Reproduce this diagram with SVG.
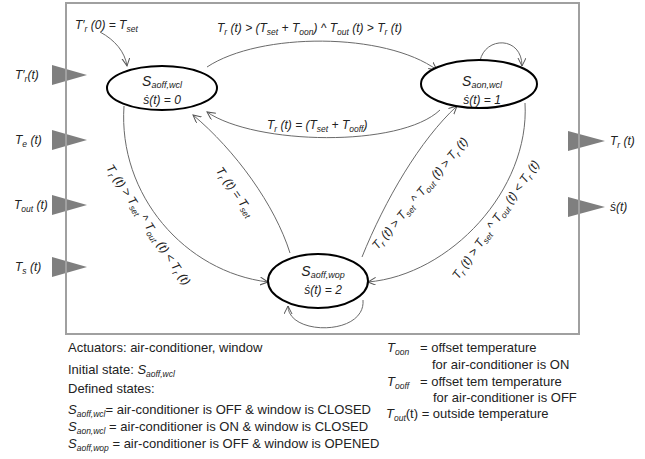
<svg xmlns="http://www.w3.org/2000/svg" width="645" height="459" viewBox="0 0 645 459">
<defs>
<style>
.m{font-family:"Liberation Sans",Arial,sans-serif;font-style:italic;font-size:12px;fill:#222}
.s{font-size:8.5px}
.st{font-family:"Liberation Sans",Arial,sans-serif;font-style:italic;font-size:14px;fill:#222}
.ss{font-size:9px}
.b{font-family:"Liberation Sans",Arial,sans-serif;font-size:13px;fill:#222}
.bs{font-style:italic;font-size:8.5px}
.bi{font-style:italic}
.node{fill:#fff;stroke:#000;stroke-width:2}
.tri{fill:#7f7f7f}
.edge{fill:none;stroke:#6a6a6a;stroke-width:1}
</style>
<marker id="arr" markerWidth="9" markerHeight="9" refX="8" refY="4" orient="auto" markerUnits="userSpaceOnUse">
<path d="M0,0 L8,4 L0,8" fill="none" stroke="#555" stroke-width="1"/>
</marker>
</defs>
<rect width="645" height="459" fill="#fff"/>
<g id="inputs">
<polygon class="tri" points="52,65 87,75 52,85"/>
<polygon class="tri" points="52,130 87,140 52,150"/>
<polygon class="tri" points="52,195 87,205 52,215"/>
<polygon class="tri" points="52,257 87,267 52,277"/>
<text class="m" x="15" y="79">T′<tspan class="s" dy="3">r</tspan><tspan dy="-3">(t)</tspan></text>
<text class="m" x="15" y="144">T<tspan class="s" dy="3">e</tspan><tspan dy="-3"> (t)</tspan></text>
<text class="m" x="14" y="209">T<tspan class="s" dy="3">out</tspan><tspan dy="-3"> (t)</tspan></text>
<text class="m" x="15" y="271">T<tspan class="s" dy="3">s</tspan><tspan dy="-3"> (t)</tspan></text>
</g>
<g id="outputs">
<polygon class="tri" points="568,131 605,141 568,151"/>
<polygon class="tri" points="568,197 605,207 568,217"/>
<text class="m" x="610" y="145">T<tspan class="s" dy="3">r</tspan><tspan dy="-3"> (t)</tspan></text>
<text class="m" x="610" y="211">ṡ(t)</text>
</g>
<rect id="frame" x="66" y="3" width="513" height="331" fill="none" stroke="#a0a0a0" stroke-width="2"/>
<g id="connectors">
<path class="edge" marker-end="url(#arr)" d="M207,67 C260,32 385,32 437,70"/>
<path class="edge" marker-end="url(#arr)" d="M440,110 C400,148 255,145 207,112"/>
<path class="edge" marker-end="url(#arr)" d="M100,32 C115,40 125,52 127,66"/>
<path class="edge" marker-end="url(#arr)" d="M124,106 C118,195 185,272 268,282"/>
<path class="edge" marker-end="url(#arr)" d="M290,253 C275,205 235,150 193,115"/>
<path class="edge" marker-end="url(#arr)" d="M362,257 C385,200 420,140 457,106"/>
<path class="edge" marker-end="url(#arr)" d="M525,103 C530,190 450,275 368,282"/>
<path class="edge" marker-end="url(#arr)" d="M480,61 C485,36 522,36 522,66"/>
<path class="edge" marker-end="url(#arr)" d="M363,300 C366,336 288,336 288,306"/>
<text class="m" x="75" y="29">T′<tspan class="s" dy="3">r</tspan><tspan dy="-3"> (0) = T</tspan><tspan class="s" dy="3">set</tspan></text>
<text class="m" x="217" y="32">T<tspan class="s" dy="3">r</tspan><tspan dy="-3"> (t) &gt; (T</tspan><tspan class="s" dy="3">set</tspan><tspan dy="-3"> + T</tspan><tspan class="s" dy="3">oon</tspan><tspan dy="-3">) ^ T</tspan><tspan class="s" dy="3">out</tspan><tspan dy="-3"> (t) &gt; T</tspan><tspan class="s" dy="3">r</tspan><tspan dy="-3"> (t)</tspan></text>
<text class="m" x="267" y="129">T<tspan class="s" dy="3">r</tspan><tspan dy="-3"> (t) = (T</tspan><tspan class="s" dy="3">set</tspan><tspan dy="-3"> + T</tspan><tspan class="s" dy="3">ooff</tspan><tspan dy="-3">)</tspan></text>
<text class="m" text-anchor="middle" transform="translate(145,227) rotate(56.5)">T<tspan class="s" dy="3">r</tspan><tspan dy="-3"> (t) &gt; T</tspan><tspan class="s" dy="3">set</tspan><tspan dy="-3"> ^ T</tspan><tspan class="s" dy="3">out</tspan><tspan dy="-3"> (t) &lt; T</tspan><tspan class="s" dy="3">r</tspan><tspan dy="-3"> (t)</tspan></text>
<text class="m" text-anchor="middle" transform="translate(232,194) rotate(55)">T<tspan class="s" dy="3">r</tspan><tspan dy="-3"> (t) = T</tspan><tspan class="s" dy="3">set</tspan></text>
<text class="m" text-anchor="middle" transform="translate(423,196) rotate(-50)">T<tspan class="s" dy="3">r</tspan><tspan dy="-3"> (t) &gt; T</tspan><tspan class="s" dy="3">set</tspan><tspan dy="-3"> ^ T</tspan><tspan class="s" dy="3">out</tspan><tspan dy="-3"> (t) &gt; T</tspan><tspan class="s" dy="3">r</tspan><tspan dy="-3"> (t)</tspan></text>
<text class="m" text-anchor="middle" transform="translate(499,222) rotate(-55)">T<tspan class="s" dy="3">r</tspan><tspan dy="-3"> (t) &gt; T</tspan><tspan class="s" dy="3">set</tspan><tspan dy="-3"> ^ T</tspan><tspan class="s" dy="3">out</tspan><tspan dy="-3"> (t) &lt; T</tspan><tspan class="s" dy="3">r</tspan><tspan dy="-3"> (t)</tspan></text>
</g>
<g id="s_aoff_wcl">
<ellipse class="node" cx="162" cy="88" rx="55" ry="22"/>
<text class="st" x="162" y="86" text-anchor="middle">S<tspan class="ss" dy="2">aoff,wcl</tspan></text>
<text class="m" x="162" y="104" text-anchor="middle" font-size="13">ṡ(t) = 0</text>
</g>
<g id="s_aon_wcl">
<ellipse class="node" cx="479" cy="84" rx="58" ry="24"/>
<text class="st" x="482" y="86" text-anchor="middle">S<tspan class="ss" dy="2">aon,wcl</tspan></text>
<text class="m" x="482" y="104" text-anchor="middle" font-size="13">ṡ(t) = 1</text>
</g>
<g id="s_aoff_wop">
<ellipse class="node" cx="318" cy="281" rx="50" ry="27"/>
<text class="st" x="323" y="276" text-anchor="middle">S<tspan class="ss" dy="2">aoff,wop</tspan></text>
<text class="m" x="323" y="294" text-anchor="middle" font-size="13">ṡ(t) = 2</text>
</g>
<g id="legend">
<text class="b" x="68" y="352">Actuators: air-conditioner, window</text>
<text class="b" x="68" y="374">Initial state: <tspan class="bi">S</tspan><tspan class="bs" dy="3">aoff,wcl</tspan></text>
<text class="b" x="68" y="393">Defined states:</text>
<text class="b" x="68" y="414"><tspan class="bi">S</tspan><tspan class="bs" dy="3">aoff,wcl</tspan><tspan dy="-3">= air-conditioner is OFF &amp; window is CLOSED</tspan></text>
<text class="b" x="68" y="431"><tspan class="bi">S</tspan><tspan class="bs" dy="3">aon,wcl</tspan><tspan dy="-3"> = air-conditioner is ON &amp; window is CLOSED</tspan></text>
<text class="b" x="68" y="448"><tspan class="bi">S</tspan><tspan class="bs" dy="3">aoff,wop</tspan><tspan dy="-3"> = air-conditioner is OFF &amp; window is OPENED</tspan></text>
<text class="b" x="387" y="352"><tspan class="bi">T</tspan><tspan class="bs" dy="3">oon</tspan></text>
<text class="b" x="420" y="352">= offset temperature</text>
<text class="b" x="432" y="369">for air-conditioner is ON</text>
<text class="b" x="387" y="386"><tspan class="bi">T</tspan><tspan class="bs" dy="3">ooff</tspan></text>
<text class="b" x="420" y="386">= offset tem temperature</text>
<text class="b" x="433" y="402">for air-conditioner is OFF</text>
<text class="b" x="386" y="418"><tspan class="bi">T</tspan><tspan class="bs" dy="3">out</tspan><tspan dy="-3">(t) = outside temperature</tspan></text>
</g>
</svg>
